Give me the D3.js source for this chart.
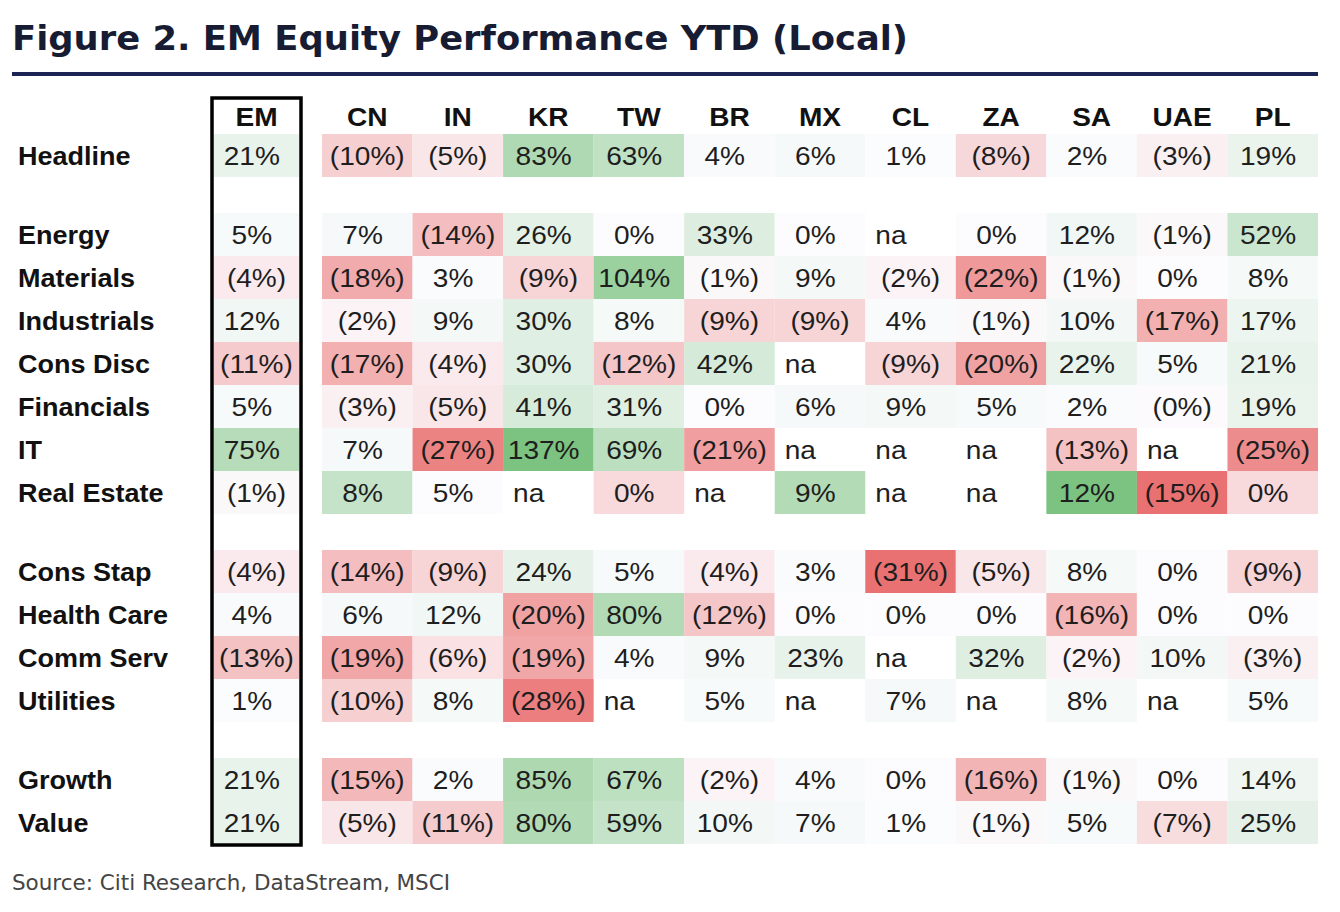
<!DOCTYPE html>
<html>
<head>
<meta charset="utf-8">
<script src="https://cdn.jsdelivr.net/npm/d3@7"></script>
<style>
  body { margin: 0; background: #fff; }
</style>
</head>
<body>
<div id="chart"></div>
<script>
// rows in display order, one inner list per block (blank spacer rows between blocks)
var rowGroups = [
  ["Headline"],
  ["Energy", "Materials", "Industrials", "Cons Disc", "Financials", "IT", "Real Estate"],
  ["Cons Stap", "Health Care", "Comm Serv", "Utilities"],
  ["Growth", "Value"]
];
var rows = rowGroups.flat();
var countries = ["CN", "IN", "KR", "TW", "BR", "MX", "CL", "ZA", "SA", "UAE", "PL"];

// YTD % (local), same order as rows; null = na
var EM  = [21, 5, -4, 12, -11, 5, 75, -1, -4, 4, -13, 1, 21, 21];
var CN  = [-10, 7, -18, -2, -17, -3, 7, 8, -14, 6, -19, -10, -15, -5];
var IN  = [-5, -14, 3, 9, -4, -5, -27, 5, -9, 12, -6, 8, 2, -11];
var KR  = [83, 26, -9, 30, 30, 41, 137, null, 24, -20, -19, -28, 85, 80];
var TW  = [63, 0, 104, 8, -12, 31, 69, 0, 5, 80, 4, null, 67, 59];
var BR  = [4, 33, -1, -9, 42, 0, -21, null, -4, -12, 9, 5, -2, 10];
var MX  = [6, 0, 9, -9, null, 6, null, 9, 3, 0, 23, null, 4, 7];
var CL  = [1, null, -2, 4, -9, 9, null, null, -31, 0, null, 7, 0, 1];
var ZA  = [-8, 0, -22, -1, -20, 5, null, null, -5, 0, 32, null, -16, -1];
var SA  = [2, 12, -1, 10, 22, 2, -13, 12, 8, -16, -2, 8, -1, 5];
var UAE = [-3, -1, 0, -17, 5, -0.4, null, -15, 0, 0, 10, null, 0, -7];
var PL  = [19, 52, 8, 17, 21, 19, -25, 0, -9, 0, -3, 5, 14, 25];

var values = {EM: EM, CN: CN, IN: IN, KR: KR, TW: TW, BR: BR, MX: MX,
              CL: CL, ZA: ZA, SA: SA, UAE: UAE, PL: PL};

// this row is shaded on its own scale across the countries (not EM)
var ownScaleRows = ["Real Estate"];

var W = 1340, H = 912;
var rowH = 43, gapH = 36, tableTop = 134;
var stretch = 1.08;   // table text in the source is a touch wider than Arial
var red = "#ea7171", mid = "#fcfcff", green = "#7cc280";

var svg = d3.select("#chart").append("svg")
    .attr("width", W)
    .attr("height", H)
    .style("font-family", "'Liberation Sans', Arial, sans-serif");

// title + rule
svg.append("text")
    .attr("x", 12).attr("y", 50)
    .attr("textLength", 896)
    .attr("lengthAdjust", "spacingAndGlyphs")
    .style("font-family", "'DejaVu Sans', sans-serif")
    .style("font-weight", "bold")
    .style("font-size", "34px")
    .attr("fill", "#171c33")
    .text("Figure 2. EM Equity Performance YTD (Local)");

svg.append("rect")
    .attr("x", 12).attr("y", 72)
    .attr("width", 1306).attr("height", 4)
    .attr("fill", "#1b2453");

// x scales: EM sits alone inside its box, countries share a band
var xEM = d3.scaleBand().domain(["EM"]).range([214, 299]);
var xC = d3.scaleBand().domain(countries).range([322, 1318]);
function colX(c) { return c === "EM" ? xEM(c) : xC(c); }
function colW(c) { return c === "EM" ? xEM.bandwidth() : xC.bandwidth(); }

// y: one band scale per block, blocks stacked with spacer gaps
var blockTops = [];
var t = tableTop;
rowGroups.forEach(function(g) { blockTops.push(t); t += g.length * rowH + gapH; });
var yBlock = rowGroups.map(function(g, i) {
  return d3.scaleBand().domain(g).range([blockTops[i], blockTops[i] + g.length * rowH]);
});
function rowY(r) {
  for (var i = 0; i < rowGroups.length; i++) if (rowGroups[i].indexOf(r) >= 0) return yBlock[i](r);
}

// colour scales
var allVals = [];
Object.keys(values).forEach(function(k) { values[k].forEach(function(v) { if (v !== null) allVals.push(v); }); });
var globalColor = d3.scaleLinear()
    .domain([d3.min(allVals), 0, d3.max(allVals)])
    .range([red, mid, green])
    .interpolate(d3.interpolateRgb)
    .clamp(true);

var rowColor = {};
ownScaleRows.forEach(function(r) {
  var i = rows.indexOf(r);
  var vs = countries.map(function(c) { return values[c][i]; }).filter(function(v) { return v !== null; });
  rowColor[r] = d3.scaleLinear()
      .domain([d3.min(vs), d3.median(vs), d3.max(vs)])
      .range([red, mid, green])
      .interpolate(d3.interpolateRgb);
});

var cells = [];
rows.forEach(function(r, i) {
  ["EM"].concat(countries).forEach(function(c) {
    cells.push({row: r, col: c, v: values[c][i]});
  });
});

function fillOf(d) {
  if (d.v === null) return "none";
  if (rowColor[d.row] && d.col !== "EM") return rowColor[d.row](d.v);
  return globalColor(d.v);
}

// place text at (x,y) with the horizontal stretch
function at(x, y) { return "translate(" + x + "," + y + ") scale(" + stretch + ",1)"; }

var g = svg.append("g");

g.selectAll("rect.cell")
  .data(cells)
  .enter().append("rect")
    .attr("class", "cell")
    .attr("x", function(d) { return colX(d.col); })
    .attr("y", function(d) { return rowY(d.row); })
    .attr("width", function(d) { return colW(d.col); })
    .attr("height", rowH)
    .attr("fill", fillOf);

// cell labels: numbers centred (positives padded by a hidden ")"), na left aligned
var labels = g.selectAll("text.val")
  .data(cells)
  .enter().append("text")
    .attr("class", "val")
    .attr("transform", function(d) {
      var x = d.v === null ? colX(d.col) + 10 : colX(d.col) + colW(d.col) / 2;
      return at(x, rowY(d.row) + rowH / 2 + 9);
    })
    .attr("text-anchor", function(d) { return d.v === null ? "start" : "middle"; })
    .style("font-size", "26px")
    .attr("fill", "#1e1e1e");

labels.each(function(d) {
  var el = d3.select(this);
  if (d.v === null) { el.text("na"); return; }
  if (d.v < 0) { el.text("(" + Math.round(-d.v) + "%)"); return; }
  el.append("tspan").text(Math.round(d.v) + "%");
  el.append("tspan").attr("fill-opacity", 0).text(")");
});

// column headers
g.selectAll("text.head")
  .data(["EM"].concat(countries))
  .enter().append("text")
    .attr("class", "head")
    .attr("transform", function(c) { return at(colX(c) + colW(c) / 2, 126); })
    .attr("text-anchor", "middle")
    .style("font-size", "26px")
    .style("font-weight", "bold")
    .attr("fill", "#111")
    .text(function(c) { return c; });

// row labels
g.selectAll("text.rowlab")
  .data(rows)
  .enter().append("text")
    .attr("class", "rowlab")
    .attr("transform", function(r) { return at(18, rowY(r) + rowH / 2 + 9); })
    .style("font-size", "25px")
    .style("font-weight", "bold")
    .attr("fill", "#111")
    .text(function(r) { return r; });

// box round the EM column
svg.append("rect")
    .attr("x", 212).attr("y", 98)
    .attr("width", 89).attr("height", 747)
    .attr("fill", "none")
    .attr("stroke", "#000")
    .attr("stroke-width", 3.5);

// source
svg.append("text")
    .attr("x", 12).attr("y", 890)
    .attr("textLength", 438)
    .attr("lengthAdjust", "spacingAndGlyphs")
    .style("font-family", "'DejaVu Sans', sans-serif")
    .style("font-size", "21px")
    .attr("fill", "#444")
    .text("Source: Citi Research, DataStream, MSCI");
</script>
</body>
</html>
